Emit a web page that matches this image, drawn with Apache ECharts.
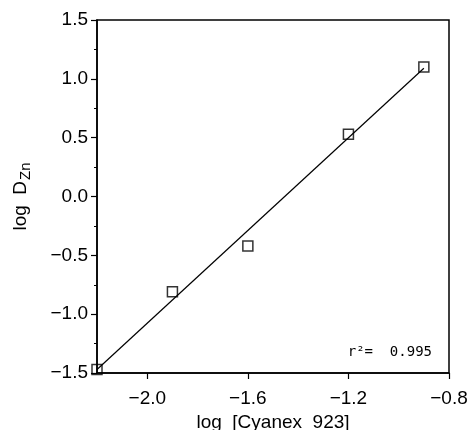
<!DOCTYPE html>
<html><head><meta charset="utf-8">
<script src="https://cdn.jsdelivr.net/npm/echarts@6/dist/echarts.min.js"></script>
<style>html,body{margin:0;padding:0;background:#fff}#c{width:473px;height:430px}</style>
</head><body><div id="c"></div>
<script>
const xData = [-2.2, -1.9, -1.6, -1.2, -0.9];
const yData = [-1.47, -0.81, -0.42, 0.53, 1.10];
const fitX = [-2.2, -0.9];
const fitY = [-1.47, 1.09];
const xTicks = [-2.0, -1.6, -1.2, -0.8];
const xTitle = 'log  [Cyanex  923]';
const rText = 'r\u00b2=  0.995';

const chart = echarts.init(document.getElementById('c'), null, {renderer: 'canvas'});
const font = 'Liberation Sans, Arial, sans-serif';
const fmt = v => v.toFixed(1).replace('-', '\u2212');
chart.setOption({
  animation: false,
  backgroundColor: '#fff',
  grid: {left: 97, right: 24, top: 20, bottom: 57, outerBoundsMode: 'none', containLabel: false,
         show: true, borderColor: '#000', borderWidth: 1.5, backgroundColor: 'transparent'},
  xAxis: {
    type: 'value', min: -2.2, max: -0.8,
    name: xTitle, nameLocation: 'middle', nameGap: 36,
    nameTextStyle: {fontFamily: font, fontSize: 19, color: '#000'},
    axisLine: {show: true, onZero: false, lineStyle: {color: '#000', width: 1.5}},
    axisTick: {show: true, inside: false, length: 6, customValues: xTicks, lineStyle: {color: '#000', width: 1.2}},
    axisLabel: {customValues: xTicks, formatter: fmt, fontFamily: font, fontSize: 19, color: '#000', margin: 16},
    splitLine: {show: false}
  },
  yAxis: {
    type: 'value', min: -1.5, max: 1.5, interval: 0.5,
    name: '{a|log  D}{b|Zn}', nameLocation: 'middle', nameGap: 64, nameRotate: 90,
    nameTextStyle: {fontFamily: font, fontSize: 19, color: '#000',
      rich: {a: {fontFamily: font, fontSize: 19, color: '#000'}, b: {fontFamily: font, fontSize: 15, color: '#000', padding: [9, 0, 0, 1]}}},
    axisLine: {show: true, onZero: false, lineStyle: {color: '#000', width: 1.5}},
    axisTick: {show: true, inside: false, length: 6, lineStyle: {color: '#000', width: 1.2}},
    minorTick: {show: true, splitNumber: 2, length: 3, lineStyle: {color: '#000', width: 1}},
    axisLabel: {formatter: fmt, fontFamily: font, fontSize: 19, color: '#000', margin: 9},
    splitLine: {show: false}
  },
  graphic: [{
    type: 'text', right: 41, top: 345,
    style: {text: rText, fontFamily: 'DejaVu Sans Mono, monospace', fontSize: 14, fill: '#000'}
  }],
  series: [
    {type: 'line', data: fitX.map((x, i) => [x, fitY[i]]), symbol: 'none',
     lineStyle: {color: '#000', width: 1.2}, z: 2},
    {type: 'scatter', data: xData.map((x, i) => [x, yData[i]]), symbol: 'rect', symbolSize: 10,
     itemStyle: {color: 'transparent', borderColor: '#000', borderWidth: 1.5}, z: 3}
  ]
});
</script></body></html>
